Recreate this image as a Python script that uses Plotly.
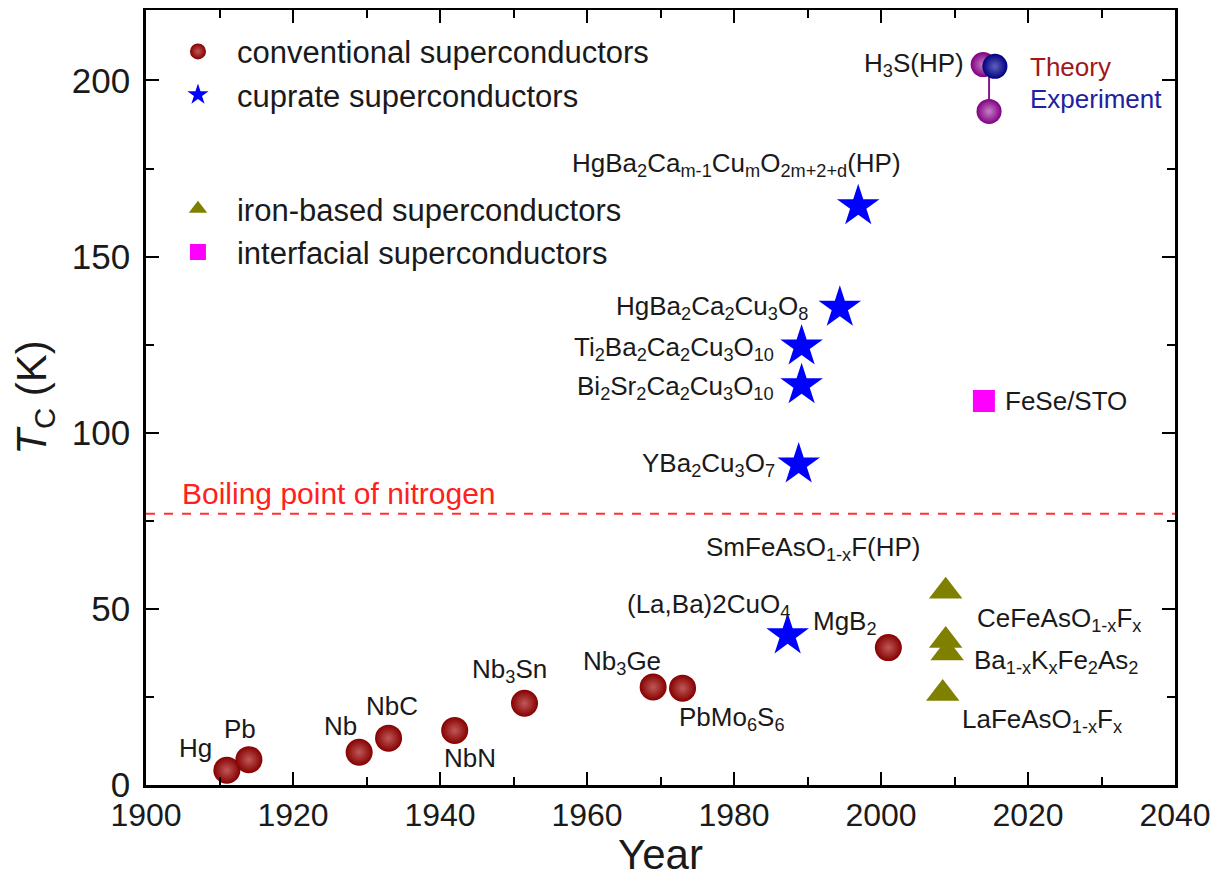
import plotly.graph_objects as go

# ---------------- data ----------------
conv_names = ["Hg", "Pb", "Nb", "NbC", "NbN", "Nb<sub>3</sub>Sn", "Nb<sub>3</sub>Ge",
              "PbMo<sub>6</sub>S<sub>6</sub>", "MgB<sub>2</sub>"]
conv_year = [1911, 1914, 1929, 1933, 1942, 1951.5, 1969, 1973, 2001]
conv_tc = [4.2, 7.2, 9.3, 13.3, 15.5, 23.2, 27.8, 27.5, 39]

cup_names = ["(La,Ba)2CuO<sub>4</sub>", "YBa<sub>2</sub>Cu<sub>3</sub>O<sub>7</sub>",
             "Bi<sub>2</sub>Sr<sub>2</sub>Ca<sub>2</sub>Cu<sub>3</sub>O<sub>10</sub>",
             "Ti<sub>2</sub>Ba<sub>2</sub>Ca<sub>2</sub>Cu<sub>3</sub>O<sub>10</sub>",
             "HgBa<sub>2</sub>Ca<sub>2</sub>Cu<sub>3</sub>O<sub>8</sub>",
             "HgBa<sub>2</sub>Ca<sub>m-1</sub>Cu<sub>m</sub>O<sub>2m+2+d</sub>(HP)"]
cup_year = [1987.3, 1988.8, 1989.2, 1989.2, 1994.4, 1996.9]
cup_tc = [42.5, 91, 113.5, 124.5, 135.5, 164.3]

iron_names = ["SmFeAsO<sub>1-x</sub>F(HP)", "CeFeAsO<sub>1-x</sub>F<sub>x</sub>",
              "Ba<sub>1-x</sub>K<sub>x</sub>Fe<sub>2</sub>As<sub>2</sub>",
              "LaFeAsO<sub>1-x</sub>F<sub>x</sub>"]
iron_year = [2008.8, 2008.8, 2009.0, 2008.4]
iron_tc = [55, 41, 37.5, 26]

iface_names = ["FeSe/STO"]
iface_year = [2014]
iface_tc = [109]

h3s_name = "H<sub>3</sub>S(HP)"
h3s_theory_year = [2013.9, 2014.7]
h3s_theory_tc = [204.5, 191.2]
h3s_exp_year = [2015.5]
h3s_exp_tc = [204]

n2_boiling = 77

x_ticks = [1900, 1920, 1940, 1960, 1980, 2000, 2020, 2040]
y_ticks = [0, 50, 100, 150, 200]

# ---------------- styling ----------------
FONT = "Liberation Sans, Arial, sans-serif"
TXT = "#1a1a1a"

fig = go.Figure()

fig.add_trace(go.Scatter(
    x=conv_year, y=conv_tc, mode="markers", name="conventional superconductors",
    marker=dict(symbol="circle", size=27, color="#850000",
                gradient=dict(type="radial", color="#c05858"), line=dict(width=0)),
    legend="legend"))
fig.add_trace(go.Scatter(
    x=cup_year, y=cup_tc, mode="markers", name="cuprate superconductors",
    marker=dict(symbol="star", size=32, color="#0000ff", line=dict(width=0)),
    legend="legend"))
fig.add_trace(go.Scatter(
    x=iron_year, y=iron_tc, mode="markers", name="iron-based superconductors",
    marker=dict(symbol="triangle-up", size=29, color="#808000", line=dict(width=0)),
    legend="legend2"))
fig.add_trace(go.Scatter(
    x=iface_year, y=iface_tc, mode="markers", name="interfacial superconductors",
    marker=dict(symbol="square", size=22, color="#ff00ff", line=dict(width=0)),
    legend="legend2"))

# H3S dumbbell
fig.add_trace(go.Scatter(
    x=[h3s_theory_year[1], h3s_theory_year[1]], y=h3s_theory_tc, mode="lines",
    line=dict(color="#8a1a8a", width=2), showlegend=False))
fig.add_trace(go.Scatter(
    x=h3s_theory_year, y=h3s_theory_tc, mode="markers", showlegend=False,
    marker=dict(symbol="circle", size=25, color="#800080",
                gradient=dict(type="radial", color="#c880c8"), line=dict(width=0))))
fig.add_trace(go.Scatter(
    x=h3s_exp_year, y=h3s_exp_tc, mode="markers", showlegend=False,
    marker=dict(symbol="circle", size=25, color="#000080",
                gradient=dict(type="radial", color="#6060c0"), line=dict(width=0))))

# nitrogen boiling line
fig.add_shape(type="line", xref="paper", x0=0, x1=1, yref="y", y0=n2_boiling, y1=n2_boiling,
              line=dict(color="#ff3030", width=2, dash="dash"))

annotations = []
LBL = 26

def lab(text, x, y, xs, ys, anchor="center", color=TXT, size=LBL):
    annotations.append(dict(text=text, x=x, y=y, xref="x", yref="y", showarrow=False,
                            xshift=xs, yshift=ys, xanchor=anchor, yanchor="middle",
                            font=dict(size=size, color=color, family=FONT)))

conv_off = [(-31, 22), (-9, 31), (-19, 26), (3, 32), (15, -28), (-15, 33), (-31, 25), (49, -30), (-43, 25)]
for n, x, y, (xs, ys) in zip(conv_names, conv_year, conv_tc, conv_off):
    lab(n, x, y, xs, ys)

cup_off = [(4, 30, "right"), (-22, 0, "right"), (-26, -2, "right"), (-26, -2, "right"),
           (-30, 0, "right"), (45, 42, "right")]
for n, x, y, (xs, ys, a) in zip(cup_names, cup_year, cup_tc, cup_off):
    lab(n, x, y, xs, ys, a)

iron_off = [(-132, 43, "center"), (29, 21, "left"), (25, -9, "left"), (17, -27, "left")]
for n, x, y, (xs, ys, a) in zip(iron_names, iron_year, iron_tc, iron_off):
    lab(n, x, y, xs, ys, a)

lab(iface_names[0], iface_year[0], iface_tc[0], 19, 0, "left")
lab(h3s_name, h3s_theory_year[0], h3s_theory_tc[0], -17, 0, "right")
lab("Theory", h3s_exp_year[0], h3s_exp_tc[0], 33, -1, "left", "#a01818")
lab("Experiment", h3s_exp_year[0], h3s_exp_tc[0], 33, -33, "left", "#2020a0")
lab("Boiling point of nitrogen", x_ticks[0], n2_boiling, 34, 20, "left", "#ff2020", 30)

axis_common = dict(showline=True, linewidth=2.5, linecolor="black", mirror="ticks",
                   ticks="inside", ticklen=13, tickwidth=2, tickcolor="black",
                   showgrid=False, zeroline=False, automargin=False)

LEG_FONT = dict(size=31, color=TXT, family=FONT)

# page body has an 8px default margin; figure sized so that plot area lands at
# x 146..1175, y 10..785 of the window
fig.update_layout(
    width=1210, height=870,
    margin=dict(l=138, r=43, t=2, b=93),
    paper_bgcolor="white", plot_bgcolor="white",
    font=dict(family=FONT, color=TXT),
    xaxis=dict(range=[1900, 2040], tickvals=x_ticks, ticklabelstandoff=0,
               tickfont=dict(size=32, color=TXT, family=FONT),
               minor=dict(dtick=10, ticks="inside", ticklen=8, tickwidth=2, tickcolor="black"),
               title=dict(text="Year", font=dict(size=42, color=TXT, family=FONT), standoff=14),
               **axis_common),
    yaxis=dict(range=[0, 220], tickvals=y_ticks, ticklabelstandoff=6,
               tickfont=dict(size=35, color=TXT, family=FONT),
               minor=dict(dtick=25, ticks="inside", ticklen=8, tickwidth=2, tickcolor="black"),
               title=dict(text="<i>T</i><sub>C</sub> (K)", font=dict(size=42, color=TXT, family=FONT),
                          standoff=22),
               **axis_common),
    legend=dict(x=0.0126, y=0.981, xanchor="left", yanchor="top", bgcolor="rgba(0,0,0,0)",
                font=LEG_FONT, itemwidth=68, itemsizing="trace", traceorder="normal"),
    legend2=dict(x=0.0126, y=0.778, xanchor="left", yanchor="top", bgcolor="rgba(0,0,0,0)",
                 font=LEG_FONT, itemwidth=68, itemsizing="trace", traceorder="normal"),
    annotations=annotations,
)

fig.write_html("out.html")
